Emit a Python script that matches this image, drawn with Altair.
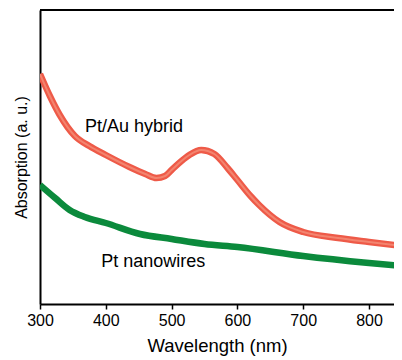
import altair as alt
import pandas as pd

# Wavelength (nm) and absorption (arbitrary units)
au_wl = [300, 315, 330, 353, 375, 400, 436, 460, 477, 490, 500, 515, 527, 545, 565, 585, 600, 620, 633, 664, 700, 753, 800, 850]
au_abs = [230, 208, 189, 168, 158, 149, 137, 130, 126, 128, 134, 143, 149, 154, 150, 136, 124, 108, 99, 82, 72, 66, 62, 58]

pt_wl = [300, 323, 345, 368, 400, 452, 500, 550, 600, 700, 800, 850]
pt_abs = [119, 106, 94, 87, 81, 70, 65, 60, 57, 48, 41, 38]

labels = ["Pt/Au hybrid", "Pt nanowires"]
label_wl = [443, 472]
label_abs = [177, 42]

au = pd.DataFrame({"wl": au_wl, "abs": au_abs})
pt = pd.DataFrame({"wl": pt_wl, "abs": pt_abs})
lab = pd.DataFrame({"t": labels, "wl": label_wl, "abs": label_abs})

xs = alt.Scale(domain=[300, 838], nice=False, zero=False)
ys = alt.Scale(domain=[0, 294], nice=False, zero=False)

x = alt.X("wl:Q", scale=xs, title="Wavelength (nm)",
          axis=alt.Axis(values=[300, 400, 500, 600, 700, 800], grid=False,
                        domainColor="black", domainWidth=2, tickColor="black",
                        tickWidth=1.5, tickSize=5, labelFontSize=16,
                        labelColor="black", labelPadding=3, titleFontSize=18.5,
                        titleFontWeight="normal", titleColor="black",
                        titlePadding=8, labelFont="Liberation Sans",
                        titleFont="Liberation Sans", labelFlush=False))
y = alt.Y("abs:Q", scale=ys, title="Absorption (a. u.)",
          axis=alt.Axis(labels=False, ticks=False, grid=False,
                        domainColor="black", domainWidth=2, titleFontSize=16,
                        titleFontWeight="normal", titleColor="black",
                        titlePadding=11, titleFont="Liberation Sans"))

red_outer = alt.Chart(au).mark_line(color="#ee5a48", strokeWidth=6.5, interpolate="monotone", clip=True).encode(x=x, y=y)
red_inner = alt.Chart(au).mark_line(color="#f3846f", strokeWidth=2, interpolate="monotone", clip=True).encode(x="wl:Q", y="abs:Q")
green = alt.Chart(pt).mark_line(color="#0b8a3c", strokeWidth=6.5, interpolate="monotone", clip=True).encode(x="wl:Q", y="abs:Q")
text = alt.Chart(lab).mark_text(fontSize=18, font="Liberation Sans", color="black").encode(
    x="wl:Q", y="abs:Q", text="t:N")
top = alt.Chart(lab).mark_rule(color="black", strokeWidth=2).encode(
    x=alt.value(0), x2=alt.value(354), y=alt.value(0))

chart = alt.layer(red_outer, red_inner, green, text, top).properties(
    width=354, height=294,
    autosize=alt.AutoSizeParams(type="none"),
    padding={"left": 32, "top": 2, "right": 0, "bottom": 54},
).configure_view(stroke=None).configure(background="white")

chart.save("out.html", embed_options={"renderer": "svg", "actions": False})
